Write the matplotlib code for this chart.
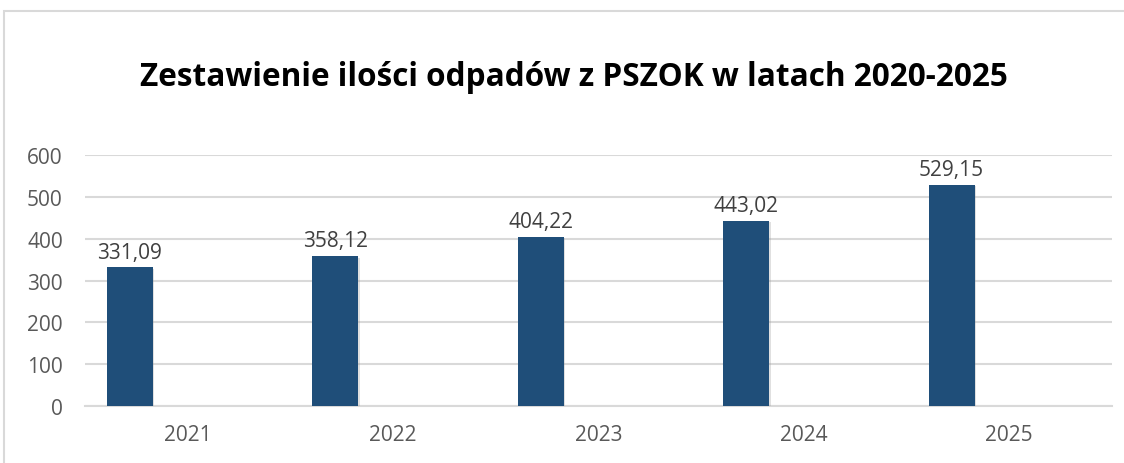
import matplotlib
matplotlib.use("Agg")
import matplotlib.pyplot as plt
from matplotlib.patches import Rectangle
import matplotlib.patheffects as pe

years = ["2021", "2022", "2023", "2024", "2025"]
values = [331.09, 358.12, 404.22, 443.02, 529.15]
labels = ["331,09", "358,12", "404,22", "443,02", "529,15"]
yticks = [0, 100, 200, 300, 400, 500, 600]
title = "Zestawienie ilości odpadów z PSZOK w latach 2020-2025"

plt.rcParams['font.family'] = ['Open Sans', 'DejaVu Sans']

W, H = 1124, 464
fig = plt.figure(figsize=(W/100, H/100), dpi=100)
fig.patch.set_facecolor("white")

# outer chart frame
fig.patches.append(Rectangle((4/W, -0.1), 1.2, (H-12)/H + 0.1, transform=fig.transFigure,
                             fill=False, edgecolor="#d9d9d9", linewidth=1.5))

ax = fig.add_axes([85/W, (H-407)/H, (1112-85)/W, (407-156)/H])
x = list(range(len(years)))
offset = -0.281
width = 0.224
bars = ax.bar([i + offset for i in x], values, width=width, color="#1f4e79", zorder=3,
              path_effects=[pe.SimplePatchShadow(offset=(1, -1), shadow_rgbFace="#999999", alpha=0.3),
                            pe.Normal()])
for b, lab in zip(bars, labels):
    ax.annotate(lab, (b.get_x() + b.get_width()/2, b.get_height()), xytext=(0, 3.5),
                textcoords="offset points", ha="center", va="bottom", fontsize=15, color="#404040")

ax.set_xlim(-0.5, len(years) - 0.5)
ax.set_ylim(0, 600)
ax.set_yticks(yticks)
ax.set_yticklabels([str(t) for t in yticks], fontsize=15, color="#595959")
ax.set_xticks(x)
ax.set_xticklabels(years, fontsize=15, color="#595959")
ax.tick_params(axis="both", length=0)
ax.tick_params(axis="y", pad=16)
ax.tick_params(axis="x", pad=13)
ax.grid(axis="y", color="#d9d9d9", linewidth=1.5, zorder=0)
for s in ["top", "right", "left"]:
    ax.spines[s].set_visible(False)
ax.spines["bottom"].set_color("#d9d9d9")
ax.spines["bottom"].set_linewidth(1.5)

fig.text(0.5 * (140 + 1007) / W, 1 - 78/H, title, ha="center", va="center",
         fontsize=22.7, fontweight="bold", color="black")

fig.savefig("out.png", dpi=100)
